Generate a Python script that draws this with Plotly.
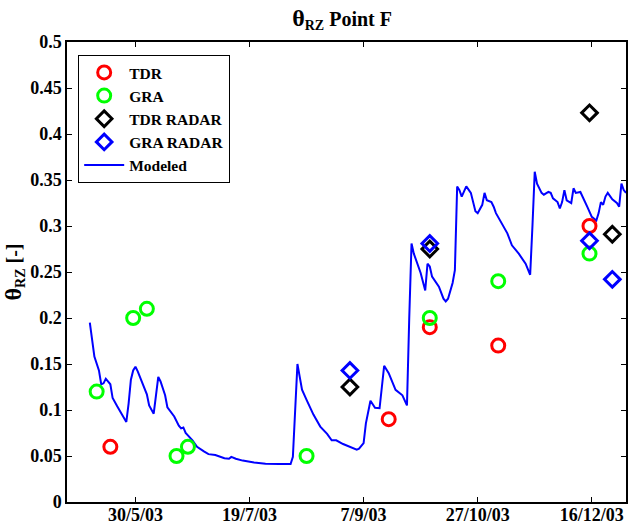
import plotly.graph_objects as go

# ---------------- data ----------------
model_dates = [
    "2003-05-10", "2003-05-12", "2003-05-14", "2003-05-15", "2003-05-16", "2003-05-17",
    "2003-05-19", "2003-05-20", "2003-05-22", "2003-05-24", "2003-05-26", "2003-05-27",
    "2003-05-28", "2003-05-29", "2003-05-30", "2003-05-31", "2003-06-02", "2003-06-04",
    "2003-06-05", "2003-06-07", "2003-06-08", "2003-06-09", "2003-06-10", "2003-06-12",
    "2003-06-13", "2003-06-16", "2003-06-18", "2003-06-19", "2003-06-20", "2003-06-21",
    "2003-06-24", "2003-06-26", "2003-06-29", "2003-07-01", "2003-07-04", "2003-07-08",
    "2003-07-10", "2003-07-11", "2003-07-13", "2003-07-16", "2003-07-21", "2003-07-26",
    "2003-08-01", "2003-08-06", "2003-08-07", "2003-08-08", "2003-08-09", "2003-08-10",
    "2003-08-11", "2003-08-13", "2003-08-16", "2003-08-19", "2003-08-22", "2003-08-24",
    "2003-08-26", "2003-08-29", "2003-09-02", "2003-09-04", "2003-09-05", "2003-09-07",
    "2003-09-08", "2003-09-10", "2003-09-12", "2003-09-14", "2003-09-15", "2003-09-16",
    "2003-09-18", "2003-09-20", "2003-09-21", "2003-09-24", "2003-09-26", "2003-09-27",
    "2003-09-28", "2003-09-29", "2003-10-01", "2003-10-02", "2003-10-04", "2003-10-05",
    "2003-10-06", "2003-10-07", "2003-10-10", "2003-10-12", "2003-10-13", "2003-10-14",
    "2003-10-16", "2003-10-17", "2003-10-18", "2003-10-19", "2003-10-20", "2003-10-22",
    "2003-10-24", "2003-10-25", "2003-10-26", "2003-10-27", "2003-10-29", "2003-10-30",
    "2003-10-31", "2003-11-02", "2003-11-03", "2003-11-04", "2003-11-06", "2003-11-09",
    "2003-11-11", "2003-11-14", "2003-11-17", "2003-11-19", "2003-11-20", "2003-11-21",
    "2003-11-22", "2003-11-24", "2003-11-25", "2003-11-27", "2003-11-28", "2003-11-29",
    "2003-12-01", "2003-12-02", "2003-12-03", "2003-12-04", "2003-12-05", "2003-12-07",
    "2003-12-08", "2003-12-09", "2003-12-11", "2003-12-12", "2003-12-14", "2003-12-16",
    "2003-12-18", "2003-12-19", "2003-12-20", "2003-12-21", "2003-12-22", "2003-12-23",
    "2003-12-25", "2003-12-27", "2003-12-28", "2003-12-29", "2003-12-30", "2003-12-31",
]
model_values = [
    0.195, 0.158, 0.143, 0.128, 0.129, 0.134,
    0.128, 0.113, 0.104, 0.096, 0.087, 0.107,
    0.133, 0.143, 0.147, 0.142, 0.130, 0.117,
    0.105, 0.096, 0.116, 0.136, 0.131, 0.116,
    0.103, 0.093, 0.083, 0.080, 0.081, 0.075,
    0.067, 0.060, 0.055, 0.052, 0.051, 0.0475,
    0.047, 0.049, 0.047, 0.045, 0.043, 0.0416,
    0.0413, 0.0413, 0.049, 0.100, 0.150, 0.136,
    0.122, 0.111, 0.095, 0.082, 0.074, 0.067,
    0.067, 0.063, 0.059, 0.057, 0.058, 0.064,
    0.0855, 0.110, 0.1025, 0.102, 0.125, 0.148,
    0.140, 0.129, 0.122, 0.116, 0.105, 0.200,
    0.281, 0.270, 0.256, 0.249, 0.230, 0.259,
    0.256, 0.245, 0.234, 0.221, 0.218, 0.221,
    0.238, 0.252, 0.343, 0.339, 0.332, 0.343,
    0.336, 0.325, 0.316, 0.314, 0.323, 0.336,
    0.328, 0.326, 0.321, 0.314, 0.305, 0.292,
    0.279, 0.270, 0.259, 0.247, 0.300, 0.359,
    0.346, 0.336, 0.334, 0.337, 0.336, 0.330,
    0.326, 0.319, 0.326, 0.339, 0.328, 0.325,
    0.341, 0.336, 0.337, 0.332, 0.321, 0.310,
    0.306, 0.314, 0.326, 0.323, 0.332, 0.336,
    0.329, 0.325, 0.321, 0.346, 0.339, 0.336,
]

tdr_dates = ["2003-05-19", "2003-09-18", "2003-10-06", "2003-11-05", "2003-12-15"]
tdr_values = [0.060, 0.090, 0.190, 0.170, 0.300]

gra_dates = ["2003-05-13", "2003-05-29", "2003-06-04", "2003-06-17", "2003-06-22",
             "2003-08-13", "2003-10-06", "2003-11-05", "2003-12-15"]
gra_values = [0.120, 0.200, 0.210, 0.050, 0.060, 0.050, 0.200, 0.240, 0.270]

tdr_radar_dates = ["2003-09-01", "2003-10-06", "2003-12-15", "2003-12-25"]
tdr_radar_values = [0.125, 0.275, 0.423, 0.291]

gra_radar_dates = ["2003-09-01", "2003-10-06", "2003-12-15", "2003-12-25"]
gra_radar_values = [0.143, 0.281, 0.284, 0.242]

x_tick_vals = ["2003-05-30", "2003-07-19", "2003-09-07", "2003-10-27", "2003-12-16"]
x_tick_text = ["30/5/03", "19/7/03", "7/9/03", "27/10/03", "16/12/03"]
y_tick_vals = [0, 0.05, 0.1, 0.15, 0.2, 0.25, 0.3, 0.35, 0.4, 0.45, 0.5]
y_tick_text = ["0", "0.05", "0.1", "0.15", "0.2", "0.25", "0.3", "0.35", "0.4", "0.45", "0.5"]

# ---------------- figure ----------------
FONT = "Liberation Serif"
fig = go.Figure()

fig.add_trace(go.Scatter(
    x=model_dates, y=model_values, mode="lines", name="<b>Modeled</b>",
    line=dict(color="#0000FF", width=2), legendrank=5, cliponaxis=True))

fig.add_trace(go.Scatter(
    x=tdr_dates, y=tdr_values, mode="markers", name="<b>TDR</b>",
    marker=dict(symbol="circle-open", size=13, color="#FF0000", line=dict(width=3, color="#FF0000")),
    legendrank=1))
fig.add_trace(go.Scatter(
    x=gra_dates, y=gra_values, mode="markers", name="<b>GRA</b>",
    marker=dict(symbol="circle-open", size=13, color="#00FF00", line=dict(width=3, color="#00FF00")),
    legendrank=2))
fig.add_trace(go.Scatter(
    x=tdr_radar_dates, y=tdr_radar_values, mode="markers", name="<b>TDR RADAR</b>",
    marker=dict(symbol="diamond-open", size=12, color="#000000", line=dict(width=3, color="#000000")),
    legendrank=3))
fig.add_trace(go.Scatter(
    x=gra_radar_dates, y=gra_radar_values, mode="markers", name="<b>GRA RADAR</b>",
    marker=dict(symbol="diamond-open", size=12, color="#0000FF", line=dict(width=3, color="#0000FF")),
    legendrank=4))

axis_common = dict(
    showgrid=False, zeroline=False, showline=True, linecolor="black", linewidth=1.5,
    mirror="ticks", ticks="inside", ticklen=5, tickwidth=1, tickcolor="black",
    tickfont=dict(family=FONT, size=18, color="black"), automargin=False,
)

fig.update_xaxes(
    type="date", range=["2003-04-30", "2003-12-31"],
    tickvals=x_tick_vals, ticktext=["<b>%s</b>" % t for t in x_tick_text],
    ticklabelstandoff=-4,
    **axis_common)
fig.update_yaxes(
    range=[0, 0.5], tickvals=y_tick_vals, ticktext=["<b>%s</b>" % t for t in y_tick_text],
    title=dict(text="<b><span style=\"font-size:24px\">θ</span><sub>RZ</sub> [-]</b>",
               font=dict(family=FONT, size=20, color="black"), standoff=4),
    **axis_common)

fig.update_layout(
    width=630, height=527,
    margin=dict(l=67, r=4, t=42, b=25, autoexpand=False),
    paper_bgcolor="white", plot_bgcolor="white",
    title=dict(text="<b><span style=\"font-size:24px\">θ</span><sub>RZ</sub> Point F</b>",
               x=0.543, xanchor="center", y=0.978, yanchor="top",
               font=dict(family=FONT, size=20, color="black")),
    font=dict(family=FONT, size=16, color="black"),
    showlegend=True,
    legend=dict(
        x=0.02, y=0.972, xanchor="left", yanchor="top",
        bgcolor="white", bordercolor="black", borderwidth=1,
        font=dict(family=FONT, size=15.5, color="black"),
        tracegroupgap=0, itemsizing="trace", itemwidth=40,
    ),
)

# remove the default 8px page margin so the 630x527 figure fills the window
fig.write_html("out.html",
               config={"displayModeBar": False},
               post_script="document.body.style.margin='0';document.body.style.overflow='hidden';")
